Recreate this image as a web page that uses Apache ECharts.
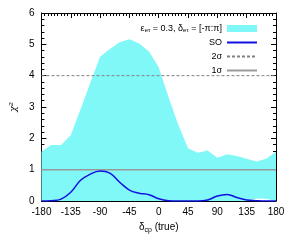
<!DOCTYPE html>
<html><head><meta charset="utf-8">
<script src="https://cdn.jsdelivr.net/npm/echarts@6/dist/echarts.min.js"></script>
<style>html,body{margin:0;padding:0;background:#fff}#c{width:294px;height:245px}</style>
</head><body><div id="c"></div>
<script>
// δcp (true) sample points, degrees
const deltaCP   = [-180,-165,-150,-135,-120,-105,-90,-75,-60,-45,-30,-15,0,15,30,45,60,75,90,105,120,135,150,165,180];
// cyan band (ε_eτ = 0.3, δ_eτ free): upper and lower edges of χ²
const bandUpper = [1.57,1.79,1.79,2.10,2.93,3.77,4.60,4.85,5.07,5.16,5.03,4.77,4.27,3.32,2.43,1.68,1.54,1.61,1.38,1.49,1.44,1.35,1.26,1.35,1.57];
const bandLower = [0,0,0,0,0,0,0,0,0,0,0,0,0,0,0,0,0,0,0,0,0,0,0.08,0.07,0];
// SO curve
const soChi2    = [0,0.01,0.06,0.28,0.66,0.86,0.96,0.89,0.60,0.35,0.25,0.20,0.07,0.01,0,0,0,0.03,0.16,0.21,0.11,0.03,0.01,0,0];
// reference levels
const sigmaLevels = {two: 4, one: 1};
const xRange = [-180, 180], xStep = 45;
const yRange = [0, 6], yStep = 1;

const FONT = 'Liberation Sans, Arial, Helvetica, sans-serif';
const CYAN = '#80f8f8';
const bandName = 'band', soName = 'SO', s2Name = '2σ', s1Name = '1σ';

const pairs = (xs, ys) => xs.map((x, i) => [x, ys[i]]);

const axisCommon = {
  type: 'value',
  axisLine: {show: true, onZero: false, lineStyle: {color: '#000', width: 1}},
  axisTick: {show: true, inside: true, length: 5, lineStyle: {color: '#000'}},
  splitLine: {show: false},
  axisLabel: {color: '#000', fontSize: 10, fontFamily: FONT}
};
const xMinor = {show: true, splitNumber: 9, length: 3, lineStyle: {color: '#000'}};
const yMinor = {show: true, splitNumber: 5, length: 3, lineStyle: {color: '#000'}};

const chart = echarts.init(document.getElementById('c'), null, {renderer: 'canvas'});
chart.setOption({
  animation: false,
  backgroundColor: '#fff',
  grid: {left: 39, right: 18, top: 13, bottom: 44},
  xAxis: [
    Object.assign({}, axisCommon, {
      position: 'bottom', min: xRange[0], max: xRange[1], interval: xStep, minorTick: xMinor,
      axisLabel: {color: '#000', fontSize: 10, fontFamily: FONT, margin: 6},
      name: '{a|δ}{s|cp}{a| (true)}', nameLocation: 'middle', nameGap: 20,
      nameTextStyle: {rich: {
        a: {fontSize: 10, fontFamily: FONT, color: '#000'},
        s: {fontSize: 7, fontFamily: FONT, color: '#000', padding: [6, 0, 0, 0]}
      }}
    }),
    Object.assign({}, axisCommon, {
      position: 'top', min: xRange[0], max: xRange[1], interval: xStep, minorTick: xMinor,
      axisLabel: {show: false}
    })
  ],
  yAxis: [
    Object.assign({}, axisCommon, {
      position: 'left', min: yRange[0], max: yRange[1], interval: yStep, minorTick: yMinor,
      axisLabel: {color: '#000', fontSize: 10, fontFamily: FONT, margin: 7},
      name: 'χ²', nameLocation: 'middle', nameGap: 22, nameRotate: 90,
      nameTextStyle: {fontSize: 10, fontFamily: 'DejaVu Serif, serif', fontStyle: 'italic', color: '#000'}
    }),
    Object.assign({}, axisCommon, {
      position: 'right', min: yRange[0], max: yRange[1], interval: yStep, minorTick: yMinor,
      axisLabel: {show: false}
    })
  ],
  legend: {
    orient: 'vertical', right: 31, top: 18, align: 'right',
    itemWidth: 30, itemHeight: 7, itemGap: 3,
    textStyle: {fontSize: 9, fontFamily: FONT, color: '#000', lineHeight: 11,
      rich: {
        a: {fontSize: 9, fontFamily: FONT, color: '#000', lineHeight: 11},
        s: {fontSize: 6, fontFamily: FONT, color: '#000', padding: [4, 0, 0, 0]}
      }},
    data: [
      {name: bandName, icon: 'rect', itemStyle: {color: CYAN}},
      {name: soName, itemStyle: {opacity: 0}},
      {name: s2Name, itemStyle: {opacity: 0}},
      {name: s1Name, itemStyle: {opacity: 0}}
    ],
    formatter: function (n) {
      if (n === bandName) return '{a|ε}{s|eτ}{a| = 0.3, δ}{s|eτ}{a| = [-π:π]}';
      return '{a|' + n + '}';
    }
  },
  series: [
    {
      name: bandName, type: 'line', data: pairs(deltaCP, bandUpper),
      symbol: 'none', lineStyle: {width: 0, color: CYAN}, itemStyle: {color: CYAN},
      areaStyle: {color: CYAN, opacity: 1}, z: 1
    },
    {
      name: 'bandLower', type: 'line', data: pairs(deltaCP, bandLower),
      symbol: 'none', lineStyle: {width: 0, color: '#fff'}, itemStyle: {color: '#fff'},
      areaStyle: {color: '#fff', opacity: 1}, silent: true, z: 1
    },
    {
      name: s2Name, type: 'line', data: [[xRange[0], sigmaLevels.two], [xRange[1], sigmaLevels.two]],
      symbol: 'none', lineStyle: {color: '#808080', width: 1, type: [3, 2]}, itemStyle: {color: '#808080'}, z: 2
    },
    {
      name: s1Name, type: 'line', data: [[xRange[0], sigmaLevels.one], [xRange[1], sigmaLevels.one]],
      symbol: 'none', lineStyle: {color: '#999', width: 1.5}, itemStyle: {color: '#999'}, z: 2
    },
    {
      name: soName, type: 'line', data: pairs(deltaCP, soChi2), smooth: 0.4,
      symbol: 'none', lineStyle: {color: '#1010e0', width: 1.5}, itemStyle: {color: '#1010e0'}, z: 3
    }
  ]
});
</script>
</body></html>
